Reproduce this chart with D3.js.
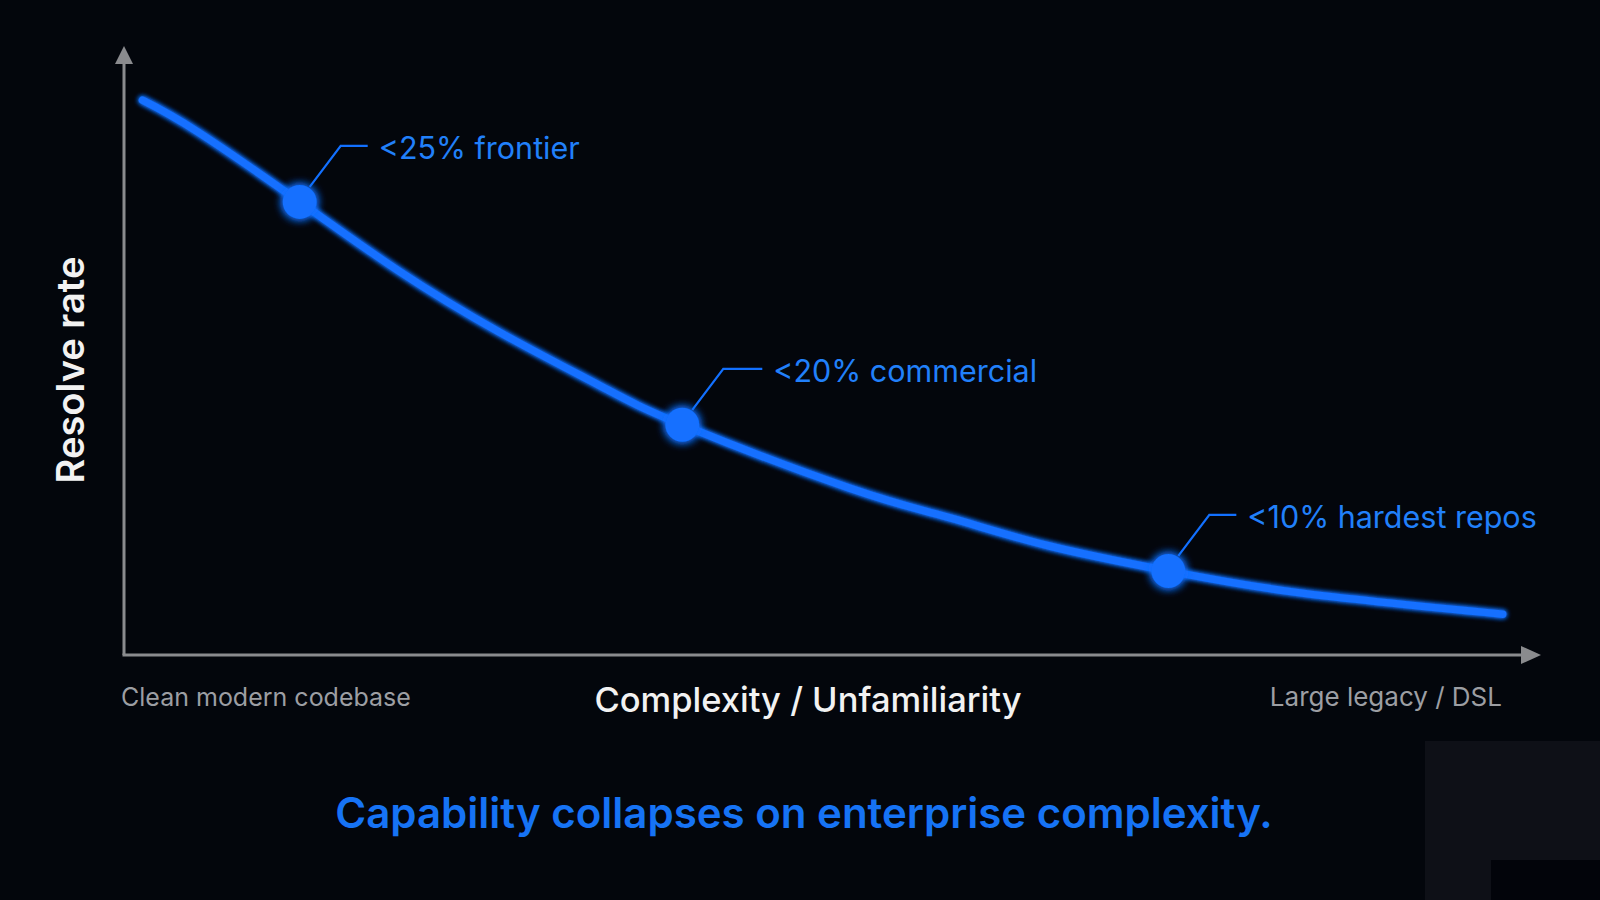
<!DOCTYPE html>
<html>
<head>
<meta charset="utf-8">
<script src="https://cdn.jsdelivr.net/npm/d3@7"></script>
<style>
  html, body { margin: 0; padding: 0; background: #03060c; overflow: hidden; }
  text { font-family: Inter, "Noto Sans", sans-serif; }
</style>
</head>
<body>
<script>
// curve: complexity (0-100) vs resolve rate (0-100, arbitrary)
var complexity = [1.3, 5.2, 12.4, 19.3, 26.5, 33.6, 39.4, 51.2, 58.3, 65.3, 73.7, 83.0, 97.3];
var resolveRate = [91.1, 85.9, 74.4, 63.2, 53.0, 44.2, 37.8, 27.4, 22.5, 17.9, 13.8, 10.2, 6.7];

var markerComplexity = [12.4, 39.4, 73.7];
var markerRate = [74.4, 37.8, 13.8];
var markerLabels = ["<25% frontier", "<20% commercial", "<10% hardest repos"];

var xTickLabels = ["Clean modern codebase", "Large legacy / DSL"];
var xTitle = "Complexity / Unfamiliarity";
var yTitle = "Resolve rate";
var caption = "Capability collapses on enterprise complexity.";

var W = 1600, H = 900;
var blue = "#1270ff";
var axisGray = "#8a8b8e";
// horizontal length of each callout leader
var leaderLen = [68, 80, 68];

var svg = d3.select("body").append("svg")
    .attr("width", W)
    .attr("height", H);

svg.append("rect")
    .attr("width", W)
    .attr("height", H)
    .attr("fill", "#03060c");

// the odd lighter block in the bottom right corner
svg.append("rect")
    .attr("x", 1425).attr("y", 741)
    .attr("width", W - 1425).attr("height", H - 741)
    .attr("fill", "#0e1017");
svg.append("rect")
    .attr("x", 1491).attr("y", 860)
    .attr("width", W - 1491).attr("height", H - 860)
    .attr("fill", "#02040a");

var defs = svg.append("defs");
function glow(id, sd){
    var f = defs.append("filter").attr("id", id)
	.attr("x", "-50%").attr("y", "-50%")
	.attr("width", "200%").attr("height", "200%");
    f.append("feGaussianBlur").attr("in", "SourceGraphic")
	.attr("stdDeviation", sd).attr("result", "blur");
    var m = f.append("feMerge");
    m.append("feMergeNode").attr("in", "blur");
    m.append("feMergeNode").attr("in", "blur");
    m.append("feMergeNode").attr("in", "SourceGraphic");
}
glow("glow", 5);
glow("softglow", 2.5);

var x = d3.scaleLinear().domain([0, 100]).range([124, 1541]);
var y = d3.scaleLinear().domain([0, 100]).range([655, 46]);

// axes with arrow heads
var ax = svg.append("g").attr("fill", axisGray).attr("stroke", axisGray);
ax.append("line")
    .attr("x1", x(0)).attr("y1", y(0))
    .attr("x2", x(0)).attr("y2", y(100) + 10)
    .attr("stroke-width", 3);
ax.append("path")
    .attr("stroke", "none")
    .attr("d", "M" + x(0) + "," + y(100)
	  + "L" + (x(0) + 9) + "," + (y(100) + 18)
	  + "L" + (x(0) - 9) + "," + (y(100) + 18) + "Z");
ax.append("line")
    .attr("x1", x(0) - 1.5).attr("y1", y(0))
    .attr("x2", x(100) - 10).attr("y2", y(0))
    .attr("stroke-width", 3);
ax.append("path")
    .attr("stroke", "none")
    .attr("d", "M" + x(100) + "," + y(0)
	  + "L" + (x(100) - 20) + "," + (y(0) - 9)
	  + "L" + (x(100) - 20) + "," + (y(0) + 9) + "Z");

// the curve
var pts = complexity.map(function(c, i){ return [c, resolveRate[i]]; });
var line = d3.line()
    .x(function(d){ return x(d[0]); })
    .y(function(d){ return y(d[1]); })
    .curve(d3.curveNatural);

svg.append("path")
    .datum(pts)
    .attr("d", line)
    .attr("fill", "none")
    .attr("stroke", blue)
    .attr("stroke-width", 7.5)
    .attr("stroke-linecap", "round")
    .attr("filter", "url(#softglow)");

// markers + callouts
var marks = markerComplexity.map(function(c, i){
    return {c: c, r: markerRate[i], label: markerLabels[i], len: leaderLen[i]};
});

var g = svg.selectAll("g.marker")
    .data(marks)
    .enter().append("g")
    .attr("class", "marker")
    .attr("transform", function(d){
	return "translate(" + x(d.c) + "," + y(d.r) + ")";
    });

g.append("path")
    .attr("d", function(d){ return "M10,-15L41,-56L" + d.len + ",-56"; })
    .attr("fill", "none")
    .attr("stroke", blue)
    .attr("stroke-width", 2.2);

g.append("circle")
    .attr("r", 17)
    .attr("fill", blue)
    .attr("filter", "url(#glow)");

g.append("text")
    .attr("x", function(d){ return d.len + 11; })
    .attr("y", -43)
    .attr("fill", "#2180fa")
    .style("font-size", "30.5px")
    .text(function(d){ return d.label; });

// axis texts
svg.append("text")
    .attr("x", x(0) - 3)
    .attr("y", 706)
    .attr("fill", "#9c9ea3")
    .style("font-size", "25px")
    .text(xTickLabels[0]);
svg.append("text")
    .attr("x", 1502)
    .attr("y", 706)
    .attr("text-anchor", "end")
    .attr("fill", "#9c9ea3")
    .style("font-size", "26px")
    .text(xTickLabels[1]);

svg.append("text")
    .attr("x", 808)
    .attr("y", 712)
    .attr("text-anchor", "middle")
    .attr("fill", "#f2f2f2")
    .style("font-size", "34.5px")
    .style("font-weight", 500)
    .text(xTitle);

svg.append("text")
    .attr("transform", "translate(84,370) rotate(-90)")
    .attr("text-anchor", "middle")
    .attr("fill", "#f2f2f2")
    .style("font-size", "38px")
    .style("font-weight", 600)
    .text(yTitle);

svg.append("text")
    .attr("x", 804)
    .attr("y", 828)
    .attr("text-anchor", "middle")
    .attr("fill", "#1673f5")
    .style("font-size", "42px")
    .style("font-weight", 600)
    .text(caption);
</script>
</body>
</html>
